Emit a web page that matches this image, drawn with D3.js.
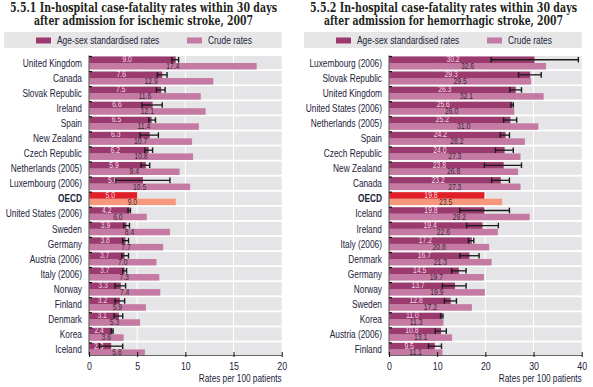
<!DOCTYPE html>
<html>
<head>
<meta charset="utf-8">
<script src="https://cdn.jsdelivr.net/npm/d3@7"></script>
<style>
  body { margin: 0; background: #fff; }
  svg { display: block; }
  .title { font-family: "DejaVu Serif Condensed", "DejaVu Serif", serif; font-weight: bold; font-size: 12px; fill: #231f20; }
  .lbl { font-family: "Liberation Sans", Arial, sans-serif; }
</style>
</head>
<body>
<div id="chart"></div>
<script>
/* chart data */
var ischCountries = ["United Kingdom","Canada","Slovak Republic","Ireland","Spain","New Zealand","Czech Republic","Netherlands (2005)","Luxembourg (2006)","OECD","United States (2006)","Sweden","Germany","Austria (2006)","Italy (2006)","Norway","Finland","Denmark","Korea","Iceland"]
var ischStd   = [9.0,7.6,7.5,6.6,6.5,6.3,6.2,5.9,5.6,5.0,4.2,3.9,3.8,3.7,3.7,3.3,3.2,3.1,2.4,2.3]
var ischCrude = [17.4,12.9,11.6,12.1,11.4,10.7,10.8,9.4,10.5,9.0,6.0,8.4,7.7,7.0,7.3,7.4,5.9,5.3,3.6,5.8]
var ischLow   = [8.6,7.1,7.0,5.5,6.2,5.3,5.8,5.4,2.8,null,4.05,3.6,3.5,3.4,3.5,2.7,2.7,2.6,2.3,1.1]
var ischHigh  = [9.3,8.1,7.9,7.6,6.9,7.2,6.6,6.3,8.4,null,4.3,4.2,4.1,4.1,3.9,3.8,3.7,3.5,2.5,3.5]
var ischTicks = [0,5,10,15,20]

var hemoCountries = ["Luxembourg (2006)","Slovak Republic","United Kingdom","United States (2006)","Netherlands (2005)","Spain","Czech Republic","New Zealand","Canada","OECD","Iceland","Ireland","Italy (2006)","Denmark","Germany","Norway","Sweden","Korea","Austria (2006)","Finland"]
var hemoStd   = [30.2,29.3,26.3,25.6,25.2,24.2,24.0,23.8,23.2,19.8,19.8,19.4,17.2,16.7,14.5,13.7,12.8,11.0,10.8,9.5]
var hemoCrude = [32.6,29.5,32.1,26.0,31.0,28.2,27.3,26.8,27.3,23.5,29.2,22.6,20.8,21.3,19.7,19.9,17.2,11.3,13.1,11.1]
var hemoLow   = [21.2,26.9,25.1,25.3,23.8,23.1,22.1,19.8,21.3,null,14.7,16.1,16.5,14.7,13.0,11.1,11.5,10.7,9.6,8.2]
var hemoHigh  = [39.3,31.6,27.5,25.8,26.5,25.0,25.8,27.5,25.0,null,25.0,22.7,17.6,18.7,16.0,16.0,14.0,11.2,11.9,10.9]
var hemoTicks = [0,10,20,30,40]

var colors = {
  std: "#9b3a6e",
  crude: "#c47aa2",
  oecdStd: "#e01f27",
  oecdCrude: "#f7977b",
  rowBack: "#e5e5e7",
  legendBack: "#e6e6e6",
  text: "#22223a"
}

var layout = {
  width: 593,
  height: 387,
  plotLeft: 89,
  plotRight: 281.7,
  plotTop: 56.5,
  plotBottom: 358,
  labelX: 82,
  axisY: 355,
  panelGap: 300,
  narrow: 0.8   // squeeze Liberation Sans to look like a narrow face
}

var svg = d3.select("#chart").append("svg")
  .attr("width", layout.width)
  .attr("height", layout.height)

function narrow(sel) {
  sel.each(function() {
    var w = this.getComputedTextLength()
    if (w > 0) {
      this.setAttribute("textLength", w * layout.narrow)
      this.setAttribute("lengthAdjust", "spacingAndGlyphs")
    }
  })
}

function buildRows(countries, std, crude, low, high) {
  return countries.map(function(c, i) {
    return { country: c, std: std[i], crude: crude[i], low: low[i], high: high[i] }
  })
}

function drawPanel(offset, titleLines, rows, ticks) {
  var g = svg.append("g").attr("transform", "translate(" + offset + ",0)")

  var x = d3.scaleLinear()
    .domain([ticks[0], ticks[ticks.length - 1]])
    .range([layout.plotLeft, layout.plotRight])

  var y = d3.scaleBand()
    .domain(rows.map(function(d) { return d.country }))
    .range([layout.plotTop, layout.plotBottom])

  var pitch = y.step()
  var barH = 6.5

  /* titles */
  g.selectAll(".title").data(titleLines).enter()
    .append("text")
    .attr("class", "title")
    .attr("text-anchor", "middle")
    .attr("x", 143.5)
    .attr("y", function(d, i) { return 11.5 + i * 13 })
    .attr("textLength", function(d, i) { return i === 0 ? 267 : d.w })
    .attr("lengthAdjust", "spacingAndGlyphs")
    .text(function(d) { return d.t })

  /* legend */
  g.append("rect")
    .attr("x", 4).attr("y", 32)
    .attr("width", layout.plotRight - 4).attr("height", 16)
    .style("fill", colors.legendBack)

  var legendItems = [
    { name: "Age-sex standardised rates", color: colors.std, x: 36 },
    { name: "Crude rates", color: colors.crude, x: 187 }
  ]
  g.selectAll(".legSw").data(legendItems).enter()
    .append("rect")
    .attr("x", function(d) { return d.x })
    .attr("y", 37.5).attr("width", 15).attr("height", 6)
    .style("fill", function(d) { return d.color })
  g.selectAll(".legTx").data(legendItems).enter()
    .append("text")
    .attr("class", "lbl")
    .attr("x", function(d) { return d.x + 21 })
    .attr("y", 44)
    .style("font-size", "10.5px")
    .style("fill", colors.text)
    .text(function(d) { return d.name })
    .call(narrow)

  /* row backgrounds */
  g.selectAll(".rowBack").data(rows).enter()
    .append("rect")
    .attr("x", layout.plotLeft)
    .attr("y", function(d) { return y(d.country) - 0.5 })
    .attr("width", layout.plotRight - layout.plotLeft)
    .attr("height", pitch - 1.8)
    .style("fill", colors.rowBack)

  /* white gridlines */
  g.selectAll(".grid").data(ticks.slice(1, -1)).enter()
    .append("line")
    .attr("x1", x).attr("x2", x)
    .attr("y1", layout.plotTop - 1).attr("y2", layout.axisY)
    .style("stroke", "#fff")
    .style("stroke-width", 1)

  /* crude bars */
  g.selectAll(".crude").data(rows).enter()
    .append("rect")
    .attr("x", x(0))
    .attr("y", function(d) { return y(d.country) + barH })
    .attr("width", function(d) { return x(d.crude) - x(0) })
    .attr("height", barH)
    .style("fill", function(d) { return d.country === "OECD" ? colors.oecdCrude : colors.crude })

  /* standardised bars */
  g.selectAll(".std").data(rows).enter()
    .append("rect")
    .attr("x", x(0))
    .attr("y", function(d) { return y(d.country) })
    .attr("width", function(d) { return x(d.std) - x(0) })
    .attr("height", barH)
    .style("fill", function(d) { return d.country === "OECD" ? colors.oecdStd : colors.std })

  /* value labels */
  g.selectAll(".stdLbl").data(rows).enter()
    .append("text")
    .attr("class", "lbl")
    .attr("text-anchor", "middle")
    .attr("x", function(d) { return x(0) + (x(d.std) - x(0)) * 0.44 })
    .attr("y", function(d) { return y(d.country) + 5.6 })
    .style("font-size", "8.5px")
    .style("fill", "#f3dbe8")
    .text(function(d) { return d.std.toFixed(1) })
    .call(narrow)

  g.selectAll(".crudeLbl").data(rows).enter()
    .append("text")
    .attr("class", "lbl")
    .attr("text-anchor", "middle")
    .attr("x", function(d) { return x(0) + (x(d.crude) - x(0)) * 0.5 })
    .attr("y", function(d) { return y(d.country) + 12.4 })
    .style("font-size", "8.5px")
    .style("fill", "#3a2838")
    .text(function(d) { return d.crude.toFixed(1) })
    .call(narrow)

  /* confidence intervals */
  var ci = rows.filter(function(d) { return d.low !== null })
  var ciY = function(d) { return y(d.country) + barH / 2 }
  g.selectAll(".ci").data(ci).enter()
    .append("line")
    .attr("x1", function(d) { return x(d.low) })
    .attr("x2", function(d) { return x(d.high) })
    .attr("y1", ciY).attr("y2", ciY)
    .style("stroke", "#1a1a1a").style("stroke-width", 1.3)
  ;["low", "high"].forEach(function(k) {
    g.selectAll(".cap" + k).data(ci).enter()
      .append("line")
      .attr("x1", function(d) { return x(d[k]) })
      .attr("x2", function(d) { return x(d[k]) })
      .attr("y1", function(d) { return ciY(d) - 2.8 })
      .attr("y2", function(d) { return ciY(d) + 2.8 })
      .style("stroke", "#1a1a1a").style("stroke-width", 1.4)
  })

  /* country labels */
  g.selectAll(".country").data(rows).enter()
    .append("text")
    .attr("class", "lbl")
    .attr("text-anchor", "end")
    .attr("x", layout.labelX)
    .attr("y", function(d) { return y(d.country) + 10.2 })
    .style("font-size", "10.4px")
    .style("font-weight", function(d) { return d.country === "OECD" ? "bold" : "normal" })
    .style("fill", colors.text)
    .text(function(d) { return d.country })
    .call(narrow)

  /* left axis line and row ticks */
  g.append("line")
    .attr("x1", layout.plotLeft).attr("x2", layout.plotLeft)
    .attr("y1", layout.plotTop - 1).attr("y2", layout.axisY)
    .style("stroke", "#666").style("stroke-width", 1.2)
  g.selectAll(".rowTick").data(rows).enter()
    .append("line")
    .attr("x1", layout.plotLeft).attr("x2", layout.plotLeft + 3)
    .attr("y1", function(d) { return y(d.country) })
    .attr("y2", function(d) { return y(d.country) })
    .style("stroke", "#111").style("stroke-width", 1.2)

  /* bottom axis */
  var axis = g.append("g")
    .attr("transform", "translate(0," + layout.axisY + ")")
    .call(d3.axisBottom(x).tickValues(ticks).tickSize(0).tickPadding(7))
  axis.select(".domain").style("stroke", "#666").style("stroke-width", 1.2)
  axis.selectAll("text")
    .attr("class", "lbl")
    .style("font-size", "11px")
    .style("fill", colors.text)
    .call(narrow)
  axis.selectAll(".tick").append("line")
    .attr("y1", -3).attr("y2", 2)
    .style("stroke", "#111")

  g.append("text")
    .attr("class", "lbl")
    .attr("text-anchor", "end")
    .attr("x", layout.plotRight)
    .attr("y", 381.5)
    .style("font-size", "10.3px")
    .style("fill", colors.text)
    .text("Rates per 100 patients")
    .call(narrow)
}

drawPanel(0,
  [{ t: "5.5.1 In-hospital case-fatality rates within 30 days" },
   { t: "after admission for ischemic stroke, 2007", w: 219 }],
  buildRows(ischCountries, ischStd, ischCrude, ischLow, ischHigh),
  ischTicks)

drawPanel(layout.panelGap,
  [{ t: "5.5.2 In-hospital case-fatality rates within 30 days" },
   { t: "after admission for hemorrhagic stroke, 2007", w: 239 }],
  buildRows(hemoCountries, hemoStd, hemoCrude, hemoLow, hemoHigh),
  hemoTicks)
</script>
</body>
</html>
